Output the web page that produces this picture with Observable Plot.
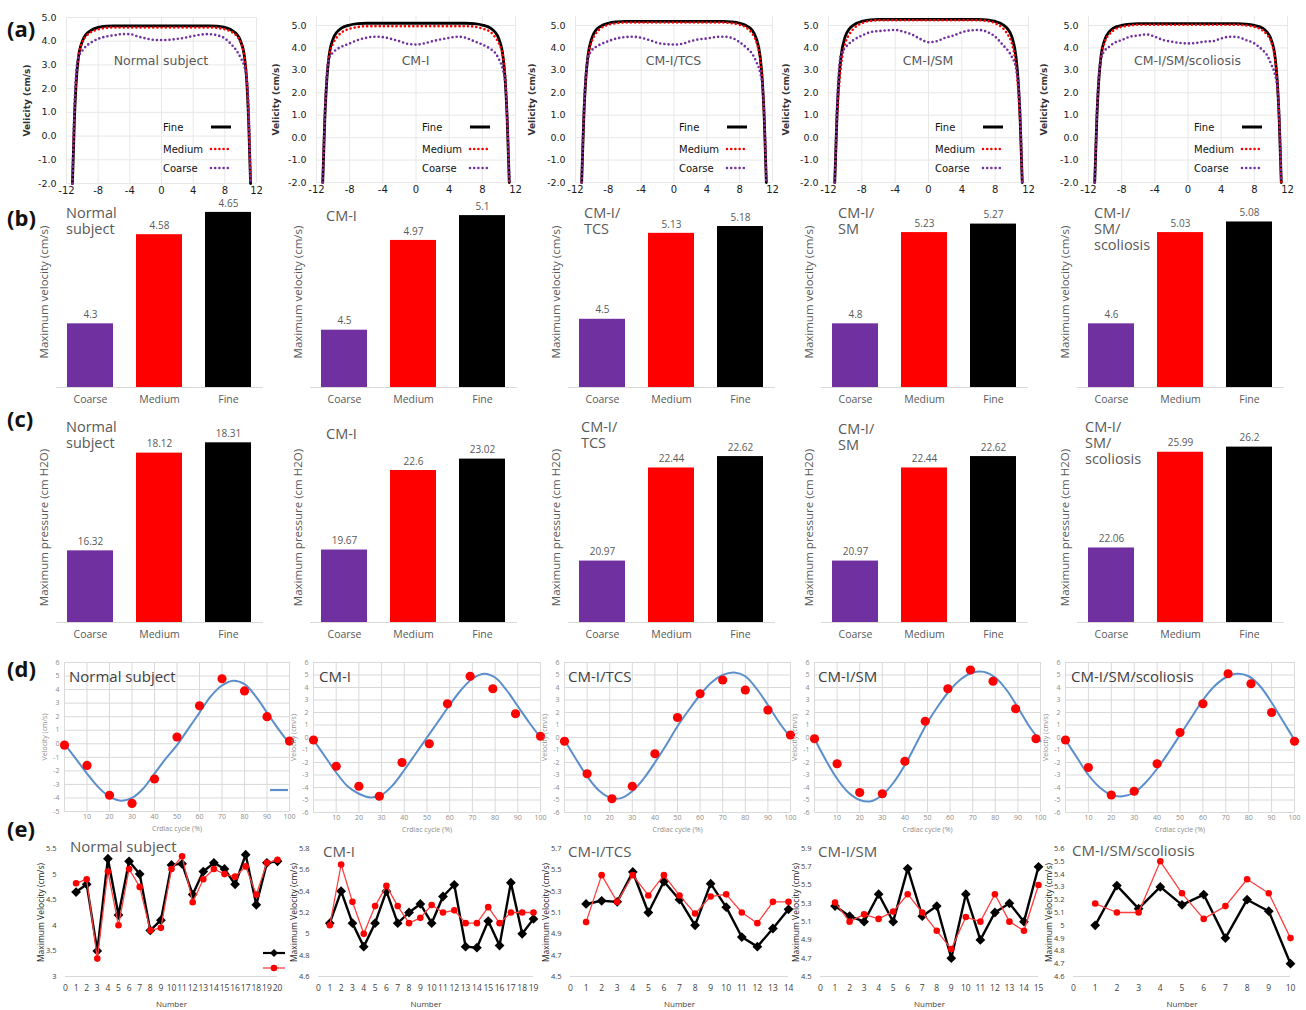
<!DOCTYPE html>
<html><head><meta charset="utf-8">
<script src="https://cdn.jsdelivr.net/npm/d3@7"></script>
<script src="https://cdn.jsdelivr.net/npm/@observablehq/plot@0.6"></script>
<style>
html,body{margin:0;padding:0;background:#fff;}
#fig{position:relative;width:1306px;height:1010px;overflow:hidden;background:#fff;}
.t{position:absolute;white-space:pre;line-height:1.12;}
</style></head><body><div id="fig"></div>
<script>
// ================= DATA =================
const panels = ["Normal subject","CM-I","CM-I/TCS","CM-I/SM","CM-I/SM/scoliosis"];
const barTitles = ["Normal\nsubject","CM-I","CM-I/\nTCS","CM-I/\nSM","CM-I/\nSM/\nscoliosis"];
const meshes = ["Coarse","Medium","Fine"];
const meshColors = ["#7030a0","#ff0000","#000000"];
const rowLabels = ["(a)","(b)","(c)","(d)","(e)"];

// (a) velocity profiles
const profileX = [-11.25,-11,-10.75,-10.5,-10,-9.5,-9,-8,-7,-6,-5,-4,-3,-2,-1,0,1,2,3,4,5,6,7,8,9,9.5,10,10.5,10.75,11,11.25];
const fineProfiles = [
  [-2,0.7,2.4,3.3,4.0,4.3,4.44,4.58,4.64, 4.65,4.65,4.65,4.65,4.65,4.65,4.65,4.65,4.65,4.65,4.65,4.65,4.65, 4.64,4.58,4.44,4.3,4.0,3.3,2.4,0.7,-2],
  [-2,0.8,2.6,3.6,4.4,4.72,4.88,5.02,5.08, 5.1,5.1,5.1,5.1,5.1,5.1,5.1,5.1,5.1,5.1,5.1,5.1,5.1, 5.08,5.02,4.88,4.72,4.4,3.6,2.6,0.8,-2],
  [-2,0.8,2.6,3.6,4.45,4.8,4.95,5.1,5.16, 5.18,5.18,5.18,5.18,5.18,5.18,5.18,5.18,5.18,5.18,5.18,5.18,5.18, 5.16,5.1,4.95,4.8,4.45,3.6,2.6,0.8,-2],
  [-2,0.8,2.6,3.6,4.5,4.85,5.02,5.18,5.25, 5.27,5.27,5.27,5.27,5.27,5.27,5.27,5.27,5.27,5.27,5.27,5.27,5.27, 5.25,5.18,5.02,4.85,4.5,3.6,2.6,0.8,-2],
  [-2,0.8,2.6,3.6,4.4,4.72,4.88,5.0,5.06, 5.08,5.08,5.08,5.08,5.08,5.08,5.08,5.08,5.08,5.08,5.08,5.08,5.08, 5.06,5.0,4.88,4.72,4.4,3.6,2.6,0.8,-2]
];
const mediumProfiles = [
  [-2,0.8,2.5,3.3,3.95,4.22,4.36,4.5,4.56, 4.58,4.58,4.58,4.58,4.58,4.58,4.58,4.58,4.58,4.58,4.58,4.58,4.58, 4.56,4.5,4.36,4.22,3.95,3.3,2.5,0.8,-2],
  [-2,0.9,2.8,3.6,4.2,4.5,4.68,4.85,4.93, 4.97,4.97,4.97,4.97,4.97,4.97,4.97,4.97,4.97,4.97,4.97,4.97,4.97, 4.95,4.86,4.7,4.5,4.2,3.6,2.8,0.9,-2],
  [-2,0.8,2.6,3.5,4.3,4.65,4.85,5.03,5.1, 5.13,5.13,5.13,5.13,5.13,5.13,5.13,5.13,5.13,5.13,5.13,5.13,5.13, 5.1,5.03,4.85,4.65,4.3,3.5,2.6,0.8,-2],
  [-2,0.6,2.2,3.2,4.2,4.6,4.85,5.1,5.2, 5.23,5.23,5.23,5.23,5.23,5.23,5.23,5.23,5.23,5.23,5.23,5.23,5.23, 5.2,5.1,4.85,4.6,4.2,3.2,2.2,0.6,-2],
  [-2,0.8,2.6,3.5,4.3,4.6,4.78,4.94,5.0, 5.03,5.03,5.03,5.03,5.03,5.03,5.03,5.03,5.03,5.03,5.03,5.03,5.03, 5.0,4.94,4.78,4.6,4.3,3.5,2.6,0.8,-2]
];
const coarseProfiles = [
  [-2,1.2,2.8,3.3,3.6,3.8,3.92,4.1,4.2, 4.25,4.3,4.3,4.2,4.12,4.06,4.05,4.06,4.1,4.15,4.22,4.28,4.3, 4.25,4.12,3.8,3.6,3.3,2.9,2.5,1.2,-2],
  [-2,0.9,2.8,3.5,3.8,3.95,4.05,4.2,4.35, 4.45,4.5,4.48,4.4,4.3,4.18,4.15,4.2,4.3,4.38,4.45,4.5,4.45, 4.3,4.15,3.95,3.8,3.5,3.0,2.5,0.9,-2],
  [-2,1.0,2.8,3.5,3.9,4.05,4.15,4.3,4.42, 4.48,4.5,4.45,4.35,4.22,4.17,4.15,4.18,4.3,4.38,4.42,4.48,4.5, 4.45,4.25,3.95,3.75,3.4,2.9,2.4,1.0,-2],
  [-2,1.2,3.0,3.7,4.0,4.2,4.35,4.55,4.7, 4.75,4.78,4.8,4.72,4.6,4.4,4.25,4.3,4.45,4.55,4.7,4.78,4.8, 4.72,4.5,4.1,3.9,3.6,3.1,2.5,1.2,-2],
  [-2,1.0,2.8,3.5,3.9,4.05,4.2,4.35,4.5, 4.55,4.6,4.5,4.35,4.28,4.22,4.2,4.22,4.28,4.3,4.42,4.5,4.48, 4.35,4.2,3.9,3.7,3.3,2.8,2.3,1.0,-2]
];
const aXTicks = [-12,-8,-4,0,4,8,12];
const aYTicks = [-2,-1,0,1,2,3,4,5];
const aYDomains = [[-2,5],[-2,5.4],[-2,5.4],[-2,5.4],[-2,5.4]];

// (b) maximum velocity per mesh [Coarse, Medium, Fine]
const maxVelocity = [[4.3,4.58,4.65],[4.5,4.97,5.1],[4.5,5.13,5.18],[4.8,5.23,5.27],[4.6,5.03,5.08]];
const velocityAxis = [[4.1,4.7],[4.2,5.2],[4.0,5.4],[4.5,5.4],[4.3,5.2]];
// (c) maximum pressure per mesh
const maxPressure = [[16.32,18.12,18.31],[19.67,22.6,23.02],[20.97,22.44,22.62],[20.97,22.44,22.62],[22.06,25.99,26.2]];
const pressureAxis = [[15,18.5],[17,24],[20,23],[20,23],[19,26.8]];

// (d) velocity over cardiac cycle
const cycleX = [0,5,10,15,20,25,30,35,40,45,50,55,60,65,70,75,80,85,90,95,100];
const waveFit = [
  [0,-1.1,-2.2,-3.2,-3.9,-4.2,-4.0,-3.3,-2.2,-1.1,-0.1,1.1,2.3,3.5,4.3,4.65,4.4,3.5,2.3,1.1,0.0],
  [-0.2,-1.5,-2.8,-3.9,-4.5,-4.8,-4.6,-3.8,-2.6,-1.3,0.0,1.3,2.6,3.8,4.7,5.1,4.8,3.8,2.5,1.2,0.0],
  [-0.2,-1.7,-3.1,-4.2,-4.8,-4.85,-4.3,-3.3,-2.0,-0.6,0.9,2.2,3.4,4.4,5.0,5.2,4.9,3.9,2.6,1.2,0.0],
  [-0.1,-1.8,-3.3,-4.4,-5.0,-5.1,-4.6,-3.6,-2.2,-0.5,1.2,2.6,3.8,4.7,5.2,5.25,4.8,3.8,2.4,0.9,-0.3],
  [-0.2,-1.6,-3.0,-4.0,-4.6,-4.7,-4.4,-3.6,-2.5,-1.2,0.2,1.6,3.0,4.1,4.8,5.1,4.9,4.1,2.8,1.3,-0.2]
];
const measuredX = [
  [0,10,20,30,40,50,60,70,80,90,100],
  [0,10,20,29,39,51,59,69,79,89,100],
  [0,10,21,30,40,50,60,70,80,90,100],
  [0,10,20,30,40,49,59,69,79,89,98],
  [0,10,20,30,40,50,60,71,81,90,100]
];
const measuredV = [
  [-0.1,-1.6,-3.8,-4.4,-2.6,0.5,2.8,4.8,3.9,2.0,0.2],
  [-0.2,-2.3,-3.9,-4.7,-2.0,-0.5,2.7,4.9,3.9,1.9,0.1],
  [-0.3,-2.9,-4.9,-3.9,-1.3,1.6,3.5,4.6,3.8,2.2,0.2],
  [-0.1,-2.1,-4.4,-4.5,-1.9,1.3,3.9,5.4,4.5,2.3,-0.1],
  [-0.2,-2.4,-4.6,-4.3,-2.1,0.4,2.7,5.1,4.3,2.0,-0.3]
];
const cycleTicks = [10,20,30,40,50,60,70,80,90,100];
const cycleGrid = [0,10,20,30,40,50,60,70,80,90,100];
const dYTicks = [
  [-5,-4,-3,-2,-1,0,1,2,3,4,5,6],
  [-6,-5,-4,-3,-2,-1,0,1,2,3,4,5,6],
  [-6,-5,-4,-3,-2,-1,0,1,2,3,4,5,6],
  [-6,-5,-4,-3,-2,-1,0,1,2,3,4,5,6],
  [-6,-5,-4,-3,-2,-1,0,1,2,3,4,5,6]
];

// (e) maximum velocity per case number (black and red series)
const caseBlack = [
  [4.65,4.8,3.5,5.3,4.2,5.25,5.0,3.9,4.1,5.18,5.2,4.6,5.05,5.22,5.1,4.8,5.38,4.4,5.22,5.25],
  [5.1,5.4,5.1,4.88,5.1,5.4,5.1,5.2,5.28,5.1,5.35,5.46,4.88,4.87,5.12,4.89,5.48,5.0,5.14],
  [5.18,5.21,5.2,5.48,5.1,5.39,5.22,4.98,5.37,5.15,4.87,4.78,4.95,5.13],
  [5.27,5.16,5.1,5.4,5.1,5.68,5.16,5.27,4.7,5.4,4.9,5.2,5.3,5.1,5.7],
  [5.0,5.31,5.13,5.3,5.16,5.24,4.9,5.2,5.11,4.7]
];
const caseRed = [
  [4.82,4.9,3.35,5.05,4.0,5.1,4.75,3.9,3.95,5.1,5.35,4.45,4.9,5.1,5.0,4.95,5.15,4.6,5.22,5.28],
  [5.08,5.65,5.3,5.0,5.26,5.45,5.26,5.1,5.15,5.27,5.2,5.22,5.1,5.1,5.25,5.1,5.2,5.2,5.2],
  [5.01,5.45,5.2,5.45,5.26,5.45,5.26,5.09,5.25,5.27,5.1,5.0,5.2,5.2],
  [5.31,5.1,5.18,5.13,5.21,5.4,5.2,5.0,4.8,5.15,5.1,5.4,5.1,5.0,5.5],
  [5.17,5.1,5.1,5.5,5.25,5.05,5.15,5.36,5.25,4.9]
];
const eYTicks = [
  [3,3.5,4,4.5,5,5.5],
  [4.6,4.8,5,5.2,5.4,5.6,5.8],
  [4.5,4.7,4.9,5.1,5.3,5.5,5.7],
  [4.5,4.7,4.9,5.1,5.3,5.5,5.7,5.9],
  [4.6,4.7,4.8,4.9,5,5.1,5.2,5.3,5.4,5.5,5.6]
];

// ================= LAYOUT =================
const fig = document.getElementById("fig");
function place(svg, left, top) {
  Object.assign(svg.style, {position:"absolute", left:left+"px", top:top+"px", overflow:"visible", maxWidth:"none", background:"transparent"});
  fig.appendChild(svg);
}
function txt(s, left, top, css) {
  const d = document.createElement("div");
  d.className = "t"; d.textContent = s;
  d.style.cssText = `left:${left}px;top:${top}px;` + (css || "");
  fig.appendChild(d); return d;
}
function swatch(left, top, w, h, inner) {
  const d = document.createElement("div");
  d.style.cssText = `position:absolute;left:${left}px;top:${top}px;width:${w}px;height:${h}px;`;
  d.innerHTML = `<svg width="${w}" height="${h}" style="display:block;overflow:visible">${inner}</svg>`;
  fig.appendChild(d);
}

const rowLabelY = [28,217,418,668,828];
rowLabels.forEach((s,k)=> txt(s, 7, rowLabelY[k], "font:bold 22px 'Open Sans';color:#111;transform:translateY(-50%)"));

// ---------- row (a) ----------
const aFrameX = [[66,256],[316,515],[575,772],[828,1028],[1088,1287]];
const aTop = [17,16,16,16,16], aBottom = [183,182,182,182,182];
const aLabelOff = [43,44,47,46,48];
panels.forEach((name,i)=>{
  const ml=60, mr=10, mt=6, mb=22;
  const [x0,x1] = aFrameX[i];
  const rows = arr => profileX.map((x,j)=>({x, v:arr[j]}));
  const svg = Plot.plot({
    width:(x1-x0)+ml+mr, height:(aBottom[i]-aTop[i])+mt+mb,
    marginLeft:ml, marginRight:mr, marginTop:mt, marginBottom:mb,
    style:{background:"transparent", fontFamily:"'DejaVu Sans'", fontSize:"9.5px", color:"#1a1a1a"},
    x:{domain:[-12,12]}, y:{domain:aYDomains[i]},
    marks:[
      Plot.gridX(aXTicks,{stroke:"#e8e8e8", strokeOpacity:1}),
      Plot.gridY(aYTicks,{stroke:"#e8e8e8", strokeOpacity:1}),
      Plot.axisX(aXTicks,{tickSize:0, tickPadding:3, tickFormat:d=>String(d), label:null, fontSize:10}),
      Plot.axisY(aYTicks,{tickSize:0, tickPadding:10, tickFormat:d=>d.toFixed(1), label:null}),
      Plot.axisY({ticks:[], label:"Velicity (cm/s)", labelArrow:false, labelAnchor:"center", labelOffset:aLabelOff[i], fontSize:9, fontWeight:"bold", fill:"#333"}),
      Plot.line(rows(fineProfiles[i]),{x:"x", y:"v", stroke:meshColors[2], strokeWidth:2.8, curve:"monotone-x"}),
      Plot.line(rows(mediumProfiles[i]),{x:"x", y:"v", stroke:meshColors[1], strokeWidth:2.6, strokeDasharray:"0 4.2", strokeLinecap:"round", curve:"monotone-x"}),
      Plot.line(rows(coarseProfiles[i]),{x:"x", y:"v", stroke:meshColors[0], strokeWidth:2.6, strokeDasharray:"0 4.2", strokeLinecap:"round", curve:"monotone-x"})
    ]
  });
  place(svg, x0-ml, aTop[i]-mt);
  txt(name, (x0+x1)/2, 60, "font:12.5px 'DejaVu Sans';color:#595959;transform:translate(-50%,-50%)");
  // legend
  const legendRows = [["Fine",2,127],["Medium",1,149],["Coarse",0,168]];
  legendRows.forEach(([lab,k,y])=>{
    txt(lab, x1-93, y, "font:10px 'DejaVu Sans';color:#111;transform:translateY(-50%)");
    const dash = k===2 ? `stroke-width="3"` : `stroke-width="2.6" stroke-dasharray="0 4.2" stroke-linecap="round"`;
    swatch(x1-48, y-4, 26, 8, `<line x1="3" y1="4" x2="23" y2="4" stroke="${meshColors[k]}" ${dash}/>`);
  });
});

// ---------- rows (b) and (c) ----------
const barFrameX = [[56,263],[310,517],[568,775],[821,1028],[1077,1284]];
function barPanel(values, dom, i, top, bottom, yLabel) {
  const ml=40, mr=6, mt=24, mb=26;
  const [x0,x1] = barFrameX[i];
  const data = meshes.map((m,k)=>({mesh:m, value:values[k]}));
  const svg = Plot.plot({
    width:(x1-x0)+ml+mr, height:(bottom-top)+mt+mb,
    marginLeft:ml, marginRight:mr, marginTop:mt, marginBottom:mb,
    style:{background:"transparent", fontFamily:"'Open Sans'", fontSize:"10.5px", color:"#595959"},
    x:{type:"band", domain:meshes, paddingInner:0.33, paddingOuter:0.165},
    y:{domain:dom},
    color:{domain:meshes, range:meshColors},
    marks:[
      Plot.barY(data,{x:"mesh", y:"value", fill:"mesh", clip:true}),
      Plot.ruleY([dom[0]],{stroke:"#d9d9d9", strokeWidth:1}),
      Plot.text(data,{x:"mesh", y:"value", text:d=>String(d.value), dy:-9, fill:"#595959", fontSize:10}),
      Plot.axisX({tickSize:0, tickPadding:8, label:null}),
      Plot.axisY({ticks:[], label:yLabel, labelArrow:false, labelAnchor:"center", labelOffset:17, fontSize:11.5})
    ]
  });
  place(svg, x0-ml, top-mt);
}
const bTitleLeft = [66,326,584,838,1094], bTitleTop = [205,208,205,205,205];
const cTitleLeft = [66,326,581,838,1085], cTitleTop = [419,426,419,421,419];
panels.forEach((name,i)=>{
  barPanel(maxVelocity[i], velocityAxis[i], i, 196, 387, "Maximum velocity (cm/s)");
  txt(barTitles[i], bTitleLeft[i], bTitleTop[i], "font:14.5px 'Open Sans';color:#595959;line-height:16px");
  barPanel(maxPressure[i], pressureAxis[i], i, 432, 622, "Maximum pressure (cm H2O)");
  txt(barTitles[i], cTitleLeft[i], cTitleTop[i], "font:14.5px 'Open Sans';color:#595959;line-height:16px");
});

// ---------- row (d) ----------
const dFrameX = [[64,289],[313,540],[564,790],[814,1040],[1065,1294]];
const dTop = 662, dBottom = [811,812,812,812,812];
const dTitleLeft = [69,319,568,818,1071];
panels.forEach((name,i)=>{
  const ml=40, mr=8, mt=6, mb=26;
  const [x0,x1] = dFrameX[i];
  const fit = cycleX.map((x,j)=>({x, v:waveFit[i][j]}));
  const pts = measuredX[i].map((x,j)=>({x, v:measuredV[i][j]}));
  const yt = dYTicks[i];
  const svg = Plot.plot({
    width:(x1-x0)+ml+mr, height:(dBottom[i]-dTop)+mt+mb,
    marginLeft:ml, marginRight:mr, marginTop:mt, marginBottom:mb,
    style:{background:"transparent", fontFamily:"'Open Sans'", fontSize:"7px", color:"#8c8c8c"},
    x:{domain:[0,100]}, y:{domain:[yt[0], yt[yt.length-1]]},
    marks:[
      Plot.gridX(cycleGrid,{stroke:"#d9d9d9", strokeOpacity:1}),
      Plot.gridY(yt,{stroke:"#d9d9d9", strokeOpacity:1}),
      Plot.axisX(cycleTicks,{tickSize:0, tickPadding:3, label:null}),
      Plot.axisX({ticks:[], label:"Crdiac cycle (%)", labelArrow:false, labelAnchor:"center", labelOffset:19}),
      Plot.axisY(yt,{tickSize:0, tickPadding:5, tickFormat:d=>String(d), label:null}),
      Plot.axisY({ticks:[], label:"Velocity (cm/s)", labelArrow:false, labelAnchor:"center", labelOffset:22}),
      Plot.line(fit,{x:"x", y:"v", stroke:"#5b8fcb", strokeWidth:2, curve:"catmull-rom"}),
      Plot.dot(pts,{x:"x", y:"v", r:4.6, fill:"#ff0000", stroke:"none"})
    ]
  });
  place(svg, x0-ml, dTop-mt);
  txt(name, dTitleLeft[i], 676, "font:15px 'Open Sans';color:#404040;transform:translateY(-50%)");
});
swatch(268, 787, 22, 6, `<line x1="2" y1="3" x2="20" y2="3" stroke="#5b8fcb" stroke-width="2.2"/>`);

// ---------- row (e) ----------
const eFrameX = [[65,277],[318,533],[570,788],[820,1038],[1073,1290]];
const eTop = 848, eBottom = 976;
const eTitleLeft = [70,323,568,818,1072], eTitleY = [846,851,851,851,850];
panels.forEach((name,i)=>{
  const ml=40, mr=8, mt=6, mb=34;
  const [x0,x1] = eFrameX[i];
  const n = caseBlack[i].length;
  const black = caseBlack[i].map((v,j)=>({x:j+1, v}));
  const red = caseRed[i].map((v,j)=>({x:j+1, v}));
  const yt = eYTicks[i];
  const xt = d3.range(0, n+1);
  const svg = Plot.plot({
    width:(x1-x0)+ml+mr, height:(eBottom-eTop)+mt+mb,
    marginLeft:ml, marginRight:mr, marginTop:mt, marginBottom:mb,
    style:{background:"transparent", fontFamily:"'Open Sans'", fontSize:"8px", color:"#404040"},
    x:{domain:[0,n]}, y:{domain:[yt[0], yt[yt.length-1]]},
    marks:[
      Plot.ruleY([yt[0]],{stroke:"#d9d9d9", strokeWidth:1.2}),
      Plot.axisX(xt,{tickSize:0, tickPadding:8, fontSize:8.5, label:null}),
      Plot.axisX({ticks:[], label:"Number", labelArrow:false, labelAnchor:"center", labelOffset:30}),
      Plot.axisY(yt,{tickSize:0, tickPadding:9, tickFormat:d=>String(d), fontSize:7.5, label:null}),
      Plot.axisY({ticks:[], label:"Maximum Velocity (cm/s)", labelArrow:false, labelAnchor:"center", labelOffset:28, fontSize:8.5, fill:"#222"}),
      Plot.line(black,{x:"x", y:"v", stroke:"#000", strokeWidth:2.4}),
      Plot.dot(black,{x:"x", y:"v", symbol:"diamond2", r:4.4, fill:"#000", stroke:"none"}),
      Plot.line(red,{x:"x", y:"v", stroke:"#ff4040", strokeWidth:1.3}),
      Plot.dot(red,{x:"x", y:"v", r:3.3, fill:"#ff0000", stroke:"none"})
    ]
  });
  place(svg, x0-ml, eTop-mt);
  txt(name, eTitleLeft[i], eTitleY[i], "font:15px 'Open Sans';color:#595959;transform:translateY(-50%)");
});
swatch(262, 948, 24, 10, `<line x1="1" y1="5" x2="23" y2="5" stroke="#000" stroke-width="2.2"/><path d="M12 1 L16 5 L12 9 L8 5 Z" fill="#000"/>`);
swatch(262, 963, 24, 10, `<line x1="1" y1="5" x2="23" y2="5" stroke="#ff4040" stroke-width="1.3"/><circle cx="12" cy="5" r="3.3" fill="#ff0000"/>`);
</script></body></html>
